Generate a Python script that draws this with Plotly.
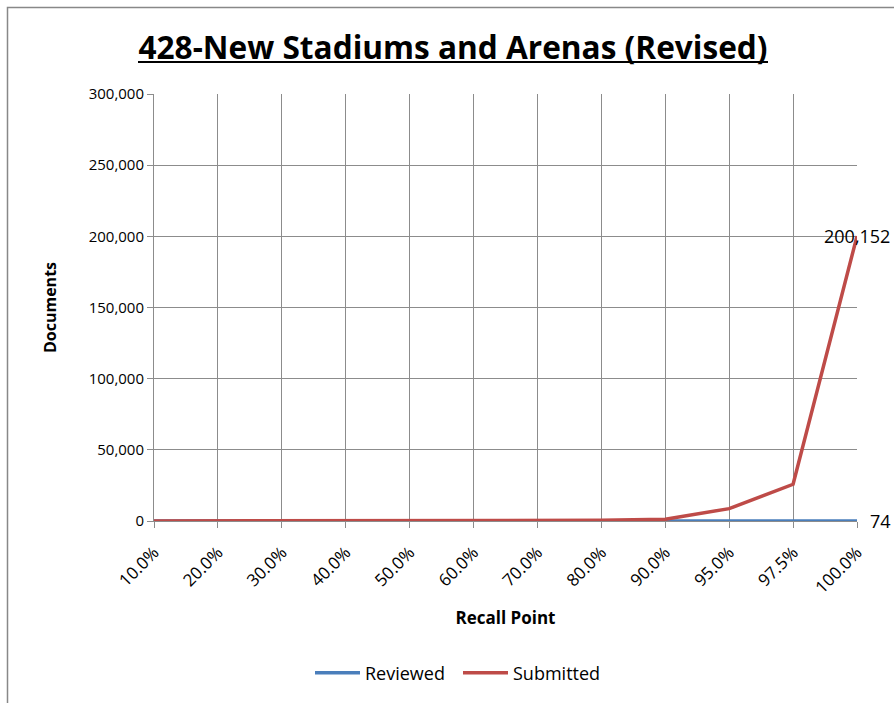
import plotly.graph_objects as go

categories = ["10.0%", "20.0%", "30.0%", "40.0%", "50.0%", "60.0%",
              "70.0%", "80.0%", "90.0%", "95.0%", "97.5%", "100.0%"]
reviewed = [7, 14, 22, 29, 37, 44, 52, 59, 66, 70, 72, 74]
submitted = [15, 35, 60, 90, 130, 190, 290, 550, 1200, 8700, 25800, 200152]

FONT = "Open Sans, Liberation Sans, sans-serif"
W, H = 894, 703
PL, PT, PR, PB = 154, 94, 857, 521  # plot area in page pixels
L, T, R, B = PL, PT, W - PR, H - PB
pw, ph = PR - PL, PB - PT

def px_x(p):
    return (p - PL) / pw

def px_y(p):
    return (PB - p) / ph

fig = go.Figure()
fig.add_trace(go.Scatter(x=categories, y=reviewed, name="Reviewed", mode="lines",
                         line=dict(color="#4a7ebb", width=3.5)))
fig.add_trace(go.Scatter(x=categories, y=submitted, name="Submitted", mode="lines",
                         line=dict(color="#be4b48", width=3.5)))

fig.add_annotation(x=categories[-1], y=submitted[-1], text=f"{submitted[-1]:,}",
                   showarrow=False, xanchor="center", yanchor="middle",
                   font=dict(family=FONT, size=18, color="black"))
fig.add_annotation(x=categories[-1], y=reviewed[-1], text=f"{reviewed[-1]:,}",
                   showarrow=False, xanchor="left", yanchor="middle", xshift=11,
                   font=dict(family=FONT, size=18, color="black"))

# chart border
fig.add_shape(type="rect", xref="paper", yref="paper",
              x0=px_x(7.5), x1=px_x(905), y0=px_y(715), y1=px_y(7.5),
              line=dict(color="#888888", width=1.5), layer="below")
# title underline
fig.add_shape(type="line", xref="paper", yref="paper",
              x0=px_x(138), x1=px_x(768), y0=px_y(62), y1=px_y(62),
              line=dict(color="black", width=2))

fig.update_layout(
    width=W, height=H,
    margin=dict(l=L, r=R, t=T, b=B, autoexpand=False),
    paper_bgcolor="white", plot_bgcolor="white",
    font=dict(family=FONT, size=15, color="black"),
    title=dict(text="<b>428-New Stadiums and Arenas (Revised)</b>",
               x=453 / W, xanchor="center", y=1 - 48 / H, yanchor="middle",
               font=dict(family=FONT, size=31.6, color="black")),
    showlegend=True,
    legend=dict(orientation="h", x=px_x(458), xref="paper", xanchor="center",
                y=px_y(673), yanchor="middle", font=dict(family=FONT, size=18),
                itemwidth=45, entrywidth=88, bgcolor="rgba(0,0,0,0)"),
    xaxis=dict(type="category", range=[0, len(categories) - 1],
               showgrid=True, gridcolor="#8c8c8c", gridwidth=1,
               showline=True, linecolor="#8c8c8c", linewidth=1,
               ticks="outside", ticklen=6, tickcolor="#8c8c8c",
               tickangle=-45, tickfont=dict(family=FONT, size=17),
               ticklabelstandoff=8,
               title=dict(text="<b>Recall Point</b>", standoff=15,
                          font=dict(family=FONT, size=17))),
    yaxis=dict(range=[0, 300000], dtick=50000, tickformat=",",
               showgrid=True, gridcolor="#8c8c8c", gridwidth=1,
               showline=True, linecolor="#8c8c8c", linewidth=1,
               ticks="outside", ticklen=6, tickcolor="#8c8c8c",
               zeroline=False, tickfont=dict(family=FONT, size=15),
               title=dict(text="<b>Documents</b>", standoff=28,
                          font=dict(family=FONT, size=16))),
)

fig.write_html("out.html", config={"displayModeBar": False},
               post_script="document.body.style.margin='0';document.body.style.overflow='hidden';")
